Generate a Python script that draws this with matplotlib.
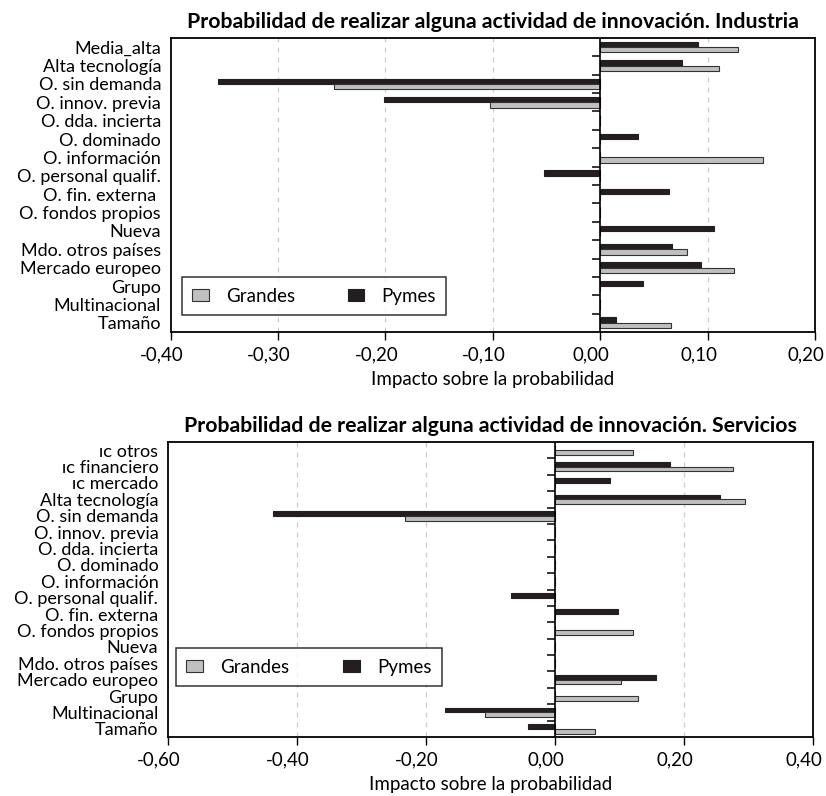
import matplotlib.pyplot as plt
from matplotlib.markers import TICKLEFT
from matplotlib.ticker import FuncFormatter
from matplotlib.transforms import ScaledTranslation
import numpy as np

plt.rcParams['font.family'] = ['Lato', 'DejaVu Sans']

# --- data ---
ind_labels = ["Media_alta", "Alta tecnología", "O. sin demanda", "O. innov. previa",
              "O. dda. incierta", "O. dominado", "O. información", "O. personal qualif.",
              "O. fin. externa ", "O. fondos propios", "Nueva", "Mdo. otros países",
              "Mercado europeo", "Grupo", "Multinacional", "Tamaño"]
ind_grandes = [0.128, 0.111, -0.248, -0.103, 0, 0, 0.152, 0, 0, 0, 0, 0.081, 0.125, 0, 0, 0.066]
ind_pymes = [0.091, 0.076, -0.356, -0.201, 0, 0.035, 0, -0.052, 0.064, 0, 0.106, 0.067, 0.094, 0.040, 0, 0.015]

ser_labels = ["ɪᴄ otros", "ɪᴄ financiero", "ɪᴄ mercado", "Alta tecnología", "O. sin demanda",
              "O. innov. previa", "O. dda. incierta", "O. dominado", "O. información",
              "O. personal qualif.", "O. fin. externa", "O. fondos propios", "Nueva",
              "Mdo. otros países", "Mercado europeo", "Grupo", "Multinacional", "Tamaño"]
ser_grandes = [0.121, 0.276, 0, 0.295, -0.233, 0, 0, 0, 0, 0, 0, 0.121, 0, 0, 0.102, 0.129, -0.108, 0.062]
ser_pymes = [0, 0.179, 0.085, 0.255, -0.438, 0, 0, 0, 0, -0.068, 0.098, 0, 0, 0, 0.157, 0, -0.171, -0.042]

GRAY = '#c0c0c0'
DARK = '#231f20'


def fmt(v, pos):
    if abs(v) < 1e-9:
        v = 0.0
    return ('%.2f' % v).replace('.', ',')


def draw(ax, labels, grandes, pymes, xlim, step, title, legend_box):
    n = len(labels)
    y = np.arange(n)[::-1]
    h = 0.29
    ax.barh(y + h / 2, pymes, height=h, color=DARK, edgecolor=DARK, linewidth=0.8, label='Pymes', zorder=3)
    ax.barh(y - h / 2, grandes, height=h, color=GRAY, edgecolor='#333333', linewidth=0.8, label='Grandes', zorder=3)

    ax.set_xlim(*xlim)
    ax.set_ylim(-0.5, n - 0.5)
    ticks = np.round(np.arange(xlim[0], xlim[1] + step / 2, step), 2) + 0.0
    ax.set_xticks(ticks)
    ax.xaxis.set_major_formatter(FuncFormatter(fmt))
    ax.tick_params(axis='x', direction='out', length=6, width=1, labelsize=13.5, pad=4)

    # dashed vertical gridlines (not on 0 / edges)
    for t in ticks:
        if abs(t) > 1e-9 and xlim[0] < t < xlim[1]:
            ax.axvline(t, color='#cccccc', linestyle=(0, (4, 4)), linewidth=0.9, zorder=0)

    # category axis sits on zero, ticks at boundaries
    ax.axvline(0, color='black', linewidth=1.2, zorder=4)
    bounds = np.arange(n - 1) + 0.5
    ax.plot(np.zeros_like(bounds), bounds, linestyle='none', marker=TICKLEFT,
            markersize=5.5, markeredgewidth=1.1, color='black', zorder=4, clip_on=False)

    ax.set_yticks(y)
    ax.set_yticklabels(labels, fontsize=13)
    ax.tick_params(axis='y', length=0, pad=7)

    for s in ax.spines.values():
        s.set_linewidth(1.3)

    ax.set_xlabel('Impacto sobre la probabilidad', fontsize=13.5, labelpad=6)
    ax.set_title(title, fontsize=15.3, fontweight='bold', pad=7)

    hnd, lbl = ax.get_legend_handles_labels()
    leg = ax.legend(hnd[::-1], lbl[::-1], ncol=2, loc='lower left', bbox_to_anchor=legend_box,
                    mode='expand', fontsize=13.5, frameon=True, fancybox=False, edgecolor='black',
                    handlelength=0.9, handleheight=0.55, handletextpad=0.9, borderpad=0.55,
                    borderaxespad=0)
    leg.get_frame().set_linewidth(1.1)


fig = plt.figure(figsize=(8.26, 7.96), dpi=100)
ax1 = fig.add_axes([0.2067, 0.5829, 0.78, 0.3694])
ax2 = fig.add_axes([0.2034, 0.0741, 0.7809, 0.3706])

draw(ax1, ind_labels, ind_grandes, ind_pymes, (-0.4, 0.2), 0.1,
     'Probabilidad de realizar alguna actividad de innovación. Industria',
     (0.0175, 0.058, 0.41, 0.13))
draw(ax2, ser_labels, ser_grandes, ser_pymes, (-0.6, 0.4), 0.2,
     'Probabilidad de realizar alguna actividad de innovación. Servicios',
     (0.0124, 0.173, 0.412, 0.13))

# the x tick labels sit a little left of their ticks in the original
shift = ScaledTranslation(-9 / 100, 0, fig.dpi_scale_trans)
for ax in (ax1, ax2):
    for lab in ax.get_xticklabels():
        lab.set_transform(lab.get_transform() + shift)

fig.savefig('out.png', dpi=100)
